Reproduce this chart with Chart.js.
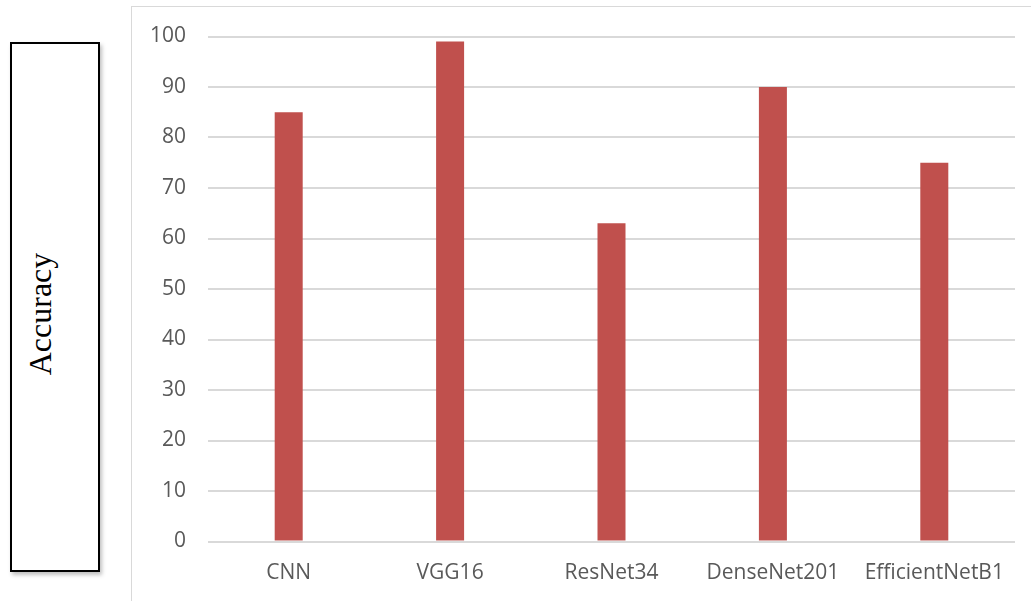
<!DOCTYPE html>
<html>
<head>
<meta charset="utf-8">
<script src="https://cdn.jsdelivr.net/npm/chart.js@4"></script>
<style>
  html, body { margin: 0; padding: 0; background: #fff; }
  body { width: 1031px; height: 601px; position: relative; overflow: hidden; }
  #axisBox {
    position: absolute; left: 10px; top: 42px; width: 86px; height: 526px;
    border: 2px solid #000; box-shadow: 2px 3px 4px rgba(0,0,0,0.25);
    background: #fff;
  }
  #axisBox span {
    position: absolute; left: 28px; top: 270px;
    transform: translate(-50%, -50%) rotate(-90deg);
    font-family: "Liberation Serif", "DejaVu Serif", serif; font-size: 32px; color: #000;
    white-space: nowrap;
  }
  #frame {
    position: absolute; left: 131px; top: 6px; width: 1000px; height: 700px;
    border: 1.5px solid #d9d9d9; box-sizing: border-box;
  }
  #wrap { position: absolute; left: 132px; top: 7px; width: 899px; height: 594px; }
</style>
</head>
<body>
<div id="axisBox"><span>Accuracy</span></div>
<div id="frame"></div>
<div id="wrap"><canvas id="chart"></canvas></div>
<script>
const categories = ["CNN", "VGG16", "ResNet34", "DenseNet201", "EfficientNetB1"];
const accuracy = [85, 99, 63, 90, 75];
const yTicks = [0, 10, 20, 30, 40, 50, 60, 70, 80, 90, 100];

const labelFont = { family: "'Open Sans', 'Noto Sans', sans-serif", size: 21 };

new Chart(document.getElementById("chart"), {
  type: "bar",
  data: {
    labels: categories,
    datasets: [{
      label: "Accuracy",
      data: accuracy,
      backgroundColor: "#c0504d",
      borderWidth: 0,
      barPercentage: 0.1735,
      categoryPercentage: 1
    }]
  },
  options: {
    responsive: true,
    maintainAspectRatio: false,
    animation: false,
    layout: { padding: { top: 29.5, right: 16, left: 0, bottom: 0 } },
    plugins: { legend: { display: false }, tooltip: { enabled: false } },
    scales: {
      x: {
        grid: { display: false, drawTicks: false },
        border: { display: false },
        ticks: { color: "#595959", font: labelFont, padding: 19, maxRotation: 0 },
        afterFit(scale) { scale.height = 59.5; scale.paddingLeft = 0; scale.paddingRight = 0; }
      },
      y: {
        min: 0, max: 100,
        afterBuildTicks(scale) { scale.ticks = yTicks.map(v => ({ value: v })); },
        grid: { color: "#d9d9d9", lineWidth: 2, drawTicks: false },
        border: { display: false },
        ticks: { color: "#595959", font: labelFont, padding: 22 },
        afterFit(scale) { scale.width = 76; scale.paddingTop = 0; scale.paddingBottom = 0; }
      }
    }
  }
});
</script>
</body>
</html>
